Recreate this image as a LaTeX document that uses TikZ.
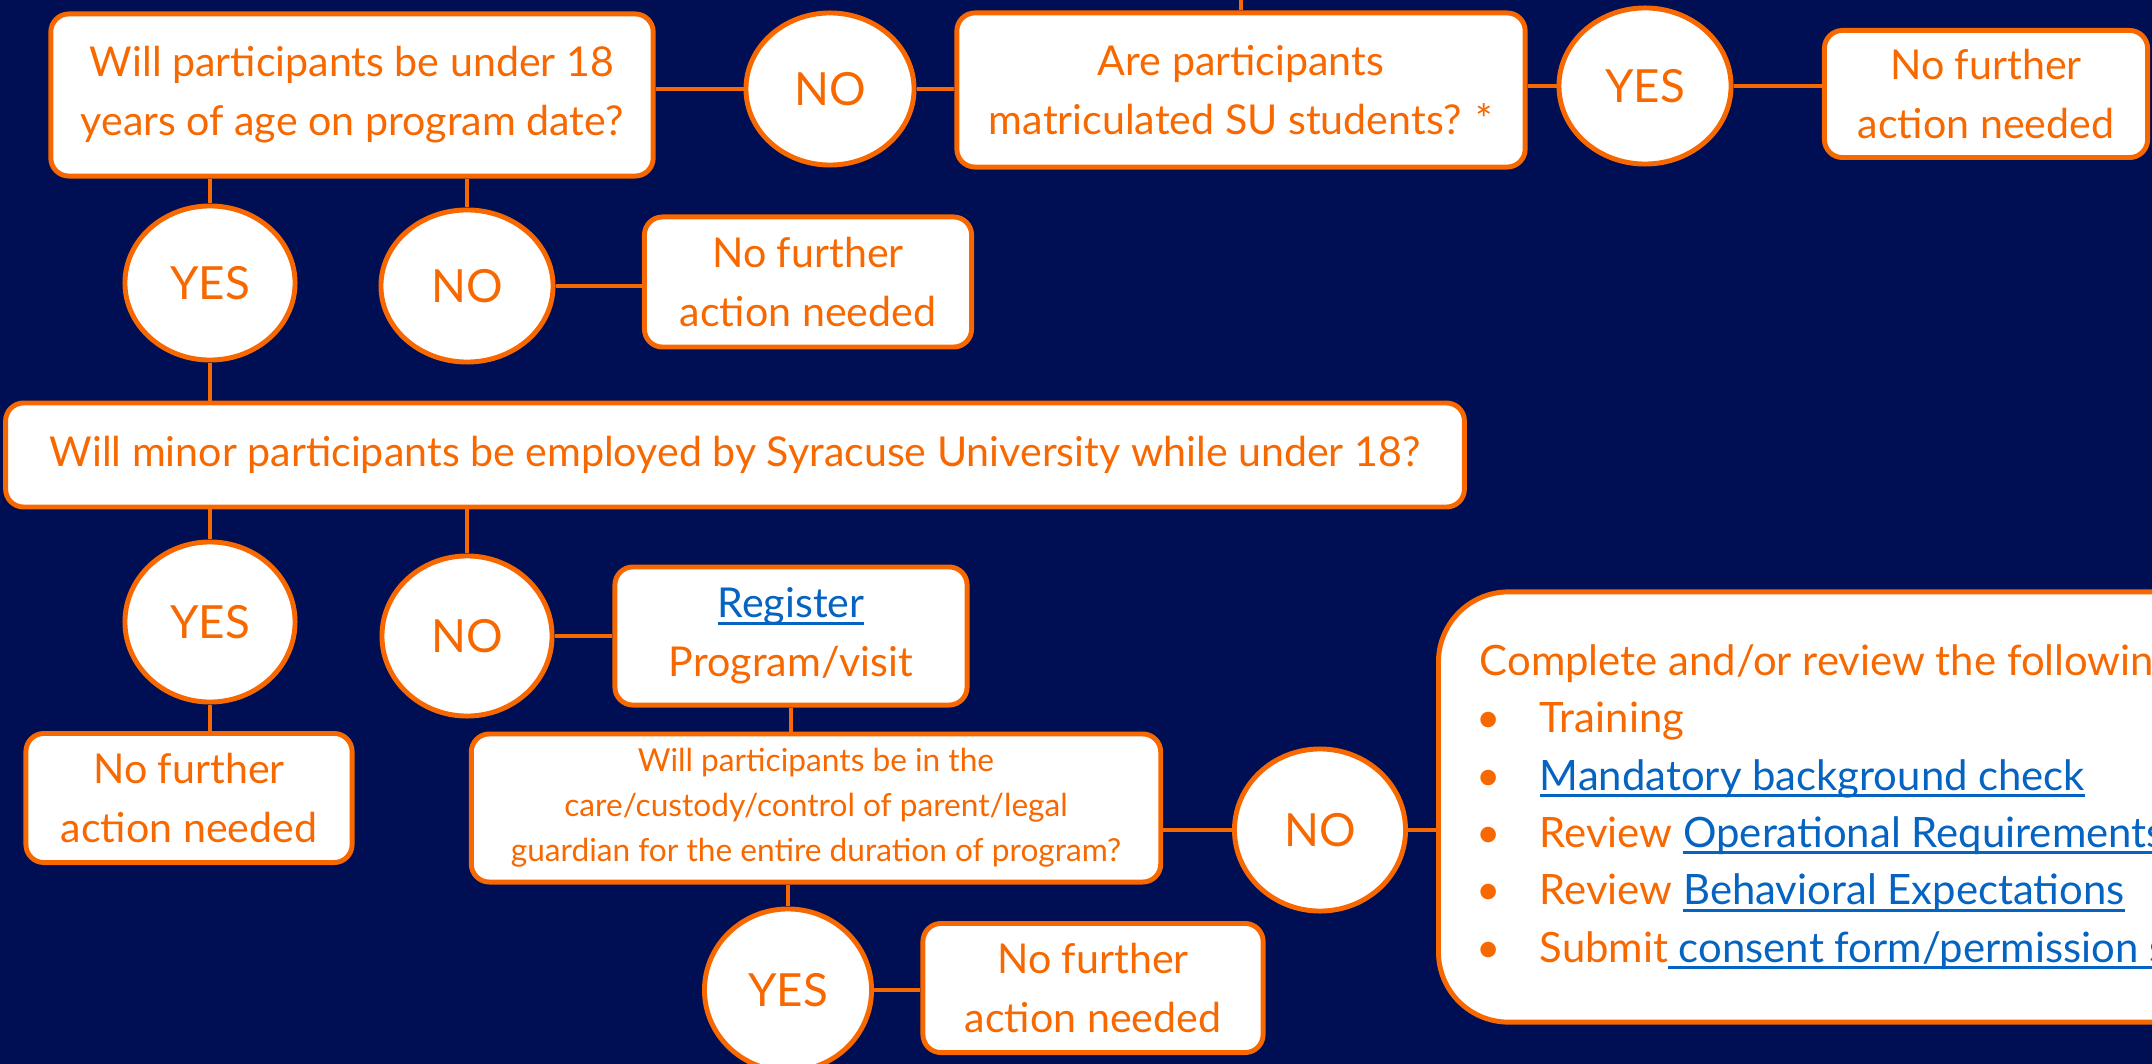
\documentclass[tikz,border=0pt]{standalone}
\usepackage{fontspec}
\setmainfont{Lato}
\usetikzlibrary{shapes.geometric}
\definecolor{navy}{HTML}{000E54}
\definecolor{suorange}{HTML}{F76900}
\definecolor{linkblue}{HTML}{0563C1}
\newcommand\lnk[1]{{\color{linkblue}\setbox0\hbox{#1}\rlap{\rule[-0.17em]{\wd0}{0.075em}}\box0}}
\newcommand\mainfs{\fontsize{11.7}{16.8}\selectfont}
\newcommand\ovalfs{\fontsize{13}{16}\selectfont}
\newcommand\smallfs{\fontsize{9.0}{12.8}\selectfont}
\newcommand\listfs{\fontsize{11.9}{16.3}\selectfont}
\newcommand\bul{\hbox to 0.6cm{\hspace{-0.03cm}•\hfil}}
\tikzset{
  box/.style={draw=suorange, line width=1.4pt, fill=white, rounded corners=0.18cm,
    text=suorange, align=center, font=\mainfs, inner sep=0pt},
  oval/.style={ellipse, draw=suorange, line width=1.4pt, fill=white,
    text=suorange, font=\ovalfs, inner sep=0pt},
  conn/.style={draw=suorange, line width=1.4pt}
}
\begin{document}
\begin{tikzpicture}[x=0.01cm, y=-0.01cm]
\useasboundingbox (0,0) rectangle (2152,1064);
\fill[navy] (0,0) rectangle (2152,1064);
\clip (0,0) rectangle (2152,1064);

% nodes
\node[box, minimum width=6.02cm, minimum height=1.62cm] (A) at (352,95) {Will participants be under 18\\years of age on program date?};
\node[oval, minimum width=1.68cm, minimum height=1.52cm] (NO1) at (830,89) {NO};
\node[box, minimum width=5.68cm, minimum height=1.54cm] (B) at (1241,90) {Are participants\\matriculated SU students? *};
\node[oval, minimum width=1.72cm, minimum height=1.56cm] (YES1) at (1645,86) {YES};
\node[box, minimum width=3.23cm, minimum height=1.27cm] (C) at (1986,94) {No further\\action needed};
\node[oval, minimum width=1.70cm, minimum height=1.54cm] (YES2) at (210,283) {YES};
\node[oval, minimum width=1.72cm, minimum height=1.52cm] (NO2) at (467,286) {NO};
\node[box, minimum width=3.27cm, minimum height=1.30cm] (D) at (808,282) {No further\\action needed};
\node[box, minimum width=14.58cm, minimum height=1.04cm] (E) at (735,455) {Will minor participants be employed by Syracuse University while under 18?};
\node[oval, minimum width=1.70cm, minimum height=1.60cm] (YES3) at (210,622) {YES};
\node[oval, minimum width=1.70cm, minimum height=1.60cm] (NO3) at (467,636) {NO};
\node[box, minimum width=3.52cm, minimum height=1.38cm] (F) at (791,636) {\lnk{Register}\\Program/visit};
\node[box, minimum width=3.26cm, minimum height=1.29cm] (G) at (189,798) {No further\\action needed};
\node[box, minimum width=6.89cm, minimum height=1.48cm, font=\smallfs] (H) at (816,808) {Will participants be in the\\care/custody/control of parent/legal\\guardian for the entire duration of program?};
\node[oval, minimum width=1.71cm, minimum height=1.62cm] (NO4) at (1320,830) {NO};
\node[oval, minimum width=1.67cm, minimum height=1.62cm] (YES4) at (788,990) {YES};
\node[box, minimum width=3.40cm, minimum height=1.29cm] (I) at (1093,988) {No further\\action needed};
\node[box, rounded corners=0.7cm, anchor=west, minimum width=10cm, minimum height=4.30cm] (J) at (1436,807) {};
\node[anchor=base west, align=left, text=suorange, font=\listfs, inner sep=0pt] (Jtext) at (1479,962)
  {Complete and/or review the following\\
   \bul Training\\
   \bul\lnk{Mandatory background check}\\
   \bul Review \lnk{Operational Requirements}\\
   \bul Review \lnk{Behavioral Expectations}\\
   \bul Submit\lnk{\ consent form/permission slip}};
\coordinate (topEnd) at (1241,-10);

% connectors
\draw[conn] (B.north) -- (B.north |- topEnd);
\draw[conn] (A.east |- NO1.west) -- (NO1.west);
\draw[conn] (NO1.east) -- (NO1.east -| B.west);
\draw[conn] (B.east |- YES1.west) -- (YES1.west);
\draw[conn] (YES1.east) -- (YES1.east -| C.west);
\draw[conn] (YES2.north |- A.south) -- (YES2.north);
\draw[conn] (NO2.north |- A.south) -- (NO2.north);
\draw[conn] (NO2.east) -- (NO2.east -| D.west);
\draw[conn] (YES2.south) -- (YES2.south |- E.north);
\draw[conn] (YES3.north |- E.south) -- (YES3.north);
\draw[conn] (NO3.north |- E.south) -- (NO3.north);
\draw[conn] (NO3.east) -- (NO3.east -| F.west);
\draw[conn] (YES3.south) -- (YES3.south |- G.north);
\draw[conn] (F.south) -- (F.south |- H.north);
\draw[conn] (H.east |- NO4.west) -- (NO4.west);
\draw[conn] (YES4.north |- H.south) -- (YES4.north);
\draw[conn] (YES4.east) -- (YES4.east -| I.west);
\draw[conn] (NO4.east) -- (NO4.east -| J.west);
\end{tikzpicture}
\end{document}
